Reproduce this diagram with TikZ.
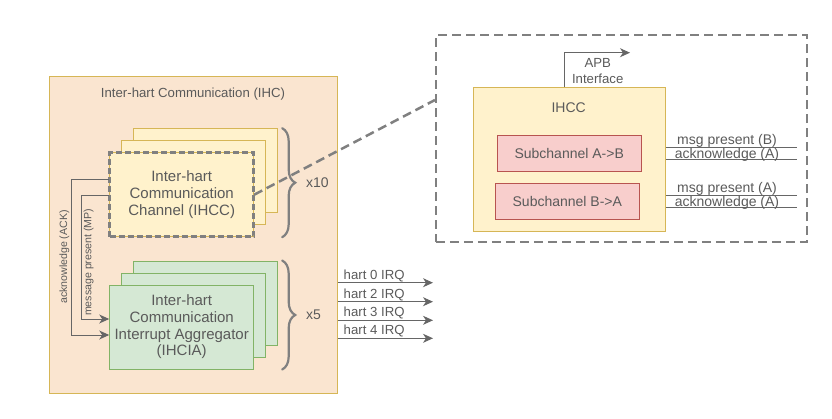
\documentclass[tikz,border=0pt]{standalone}
\usepackage{fontspec}
\setmainfont{Liberation Sans}
\usepackage{tikz}
\usetikzlibrary{arrows.meta,positioning,calc,decorations.pathreplacing}
\definecolor{ihcPeach}{HTML}{FAE5D0}
\definecolor{ihcGold}{HTML}{D6B656}
\definecolor{chYellow}{HTML}{FFF2CC}
\definecolor{aggFill}{HTML}{D5E8D4}
\definecolor{aggEdge}{HTML}{82B366}
\definecolor{subFill}{HTML}{F8CECC}
\definecolor{subEdge}{HTML}{B85450}
\definecolor{txtGray}{HTML}{5A5A5A}
\definecolor{wireGray}{HTML}{666666}
\definecolor{dashGray}{HTML}{808080}
\tikzset{
  blk/.style={draw, line width=1pt, align=center, text=txtGray, inner sep=2pt,
    font=\fontsize{15}{16.7}\selectfont},
  chan/.style={blk, draw=ihcGold, fill=chYellow, minimum width=144pt, minimum height=84pt},
  agg/.style={blk, draw=aggEdge, fill=aggFill, minimum width=144pt, minimum height=84pt},
  subch/.style={blk, draw=subEdge, fill=subFill, minimum width=144pt, minimum height=36pt,
    font=\fontsize{14}{16.8}\selectfont},
  wire/.style={draw=wireGray, line width=1pt},
  sig/.style={text=txtGray, font=\fontsize{13.2}{16}\selectfont, inner sep=0pt, align=center},
  bigsig/.style={sig, font=\fontsize{14}{16.8}\selectfont},
  tiny/.style={sig, font=\fontsize{10.6}{12}\selectfont},
  rep/.style={decorate, decoration={brace, amplitude=13pt}, draw=dashGray, line width=2.2pt, line cap=round},
  zoomline/.style={draw=dashGray, line width=2pt, dash pattern=on 9pt off 5pt},
}
\begin{document}
\begin{tikzpicture}[x=1pt, y=-1pt, >={Stealth[length=10pt, width=9pt, inset=3pt]}]
\useasboundingbox (0,0) rectangle (832,418);
\node[draw=ihcGold, fill=ihcPeach, line width=1pt, minimum width=288.4pt, minimum height=317pt] (ihc) at (193.5,234.5) {};
\node[sig] (ihcTitle) at (193,94) {Inter-hart Communication (IHC)};
% channel stack
\foreach \k in {2,1} \node[chan] (ihcc\k) at ({181.7+12*\k},{194.7-12*\k}) {};
\node[chan, postaction={draw=dashGray, line width=2.6pt, dash pattern=on 6pt off 3pt}] (ihcc0) at (181.7,194.7)
  {Inter-hart\\Communication\\Channel (IHCC)};
% aggregator stack
\foreach \k in {2,1} \node[agg] (ihcia\k) at ({181.7+12*\k},{327-12*\k}) {};
\node[agg] (ihcia0) at (181.7,327) {Inter-hart\\Communication\\Interrupt Aggregator\\(IHCIA)};
% copies
\draw[rep] ([xshift=4pt]ihcc2.north east) -- ([xshift=4pt]ihcc2.east |- ihcc0.south);
\node[bigsig, anchor=west] (ihccCount) at (306,183) {x10};
\draw[rep] ([xshift=4pt]ihcia2.north east) -- ([xshift=4pt]ihcia2.east |- ihcia0.south);
\node[bigsig, anchor=west] (ihciaCount) at (306,315) {x5};
% ACK / MP
\draw[wire, ->] ([yshift=15.7pt]ihcc0.west) -- ++(-37.4,0) |- ([yshift=-8pt]ihcia0.west)
  node[tiny, pos=0.25, rotate=90, anchor=south, yshift=2pt] {acknowledge (ACK)};
\draw[wire, ->] ([yshift=-1pt]ihcc0.west) -- ++(-28,0) |- ([yshift=8pt]ihcia0.west)
  node[tiny, pos=0.27, rotate=90, anchor=north, yshift=-2pt] {message present (MP)};
% interrupts
\foreach \h/\y in {0/282.7,2/301.7,3/320.3,4/338.3} {
  \coordinate (irq\h) at (433,\y);
  \draw[wire, ->] (ihc.east |- irq\h) -- (irq\h)
    node[sig, pos=0, anchor=base west, xshift=5pt, yshift=3.4pt] {hart \h\ IRQ};
}
% zoomed channel
\node[zoomline, minimum width=370.7pt, minimum height=207.3pt] (zoom) at (621.3,138.7) {};
\draw[zoomline, line width=2.5pt] (ihcc0.east) -- (zoom.west |- 0,100);
\node[chan, minimum width=192.4pt, minimum height=143.7pt] (ihccd) at (569.5,159.2) {};
\node[bigsig] (ihccdTitle) at (568.7,107.3) {IHCC};
\node[subch] (subAB) at (569.2,153.3) {Subchannel A->B};
\node[subch] (subBA) at (567.3,201.3) {Subchannel B->A};
\coordinate (apb) at (630,52.7);
\draw[wire, ->] (ihccd.north -| 564.3,0) |- (apb);
\node[sig] (apbLabel) at (597.7,70.8) {APB\\Interface};
\foreach \y/\t/\s [count=\i] in {147.3/msg present (B)/3, 159.3/acknowledge (A)/1,
    195.3/msg present (A)/3, 207.3/acknowledge (A)/1} {
  \coordinate (sig\i) at (796.7,\y);
  \draw[wire] (ihccd.east |- sig\i) -- (sig\i)
    node[bigsig, pos=0.466, anchor=base, yshift=\s pt] {\t};
}
\end{tikzpicture}
\end{document}
